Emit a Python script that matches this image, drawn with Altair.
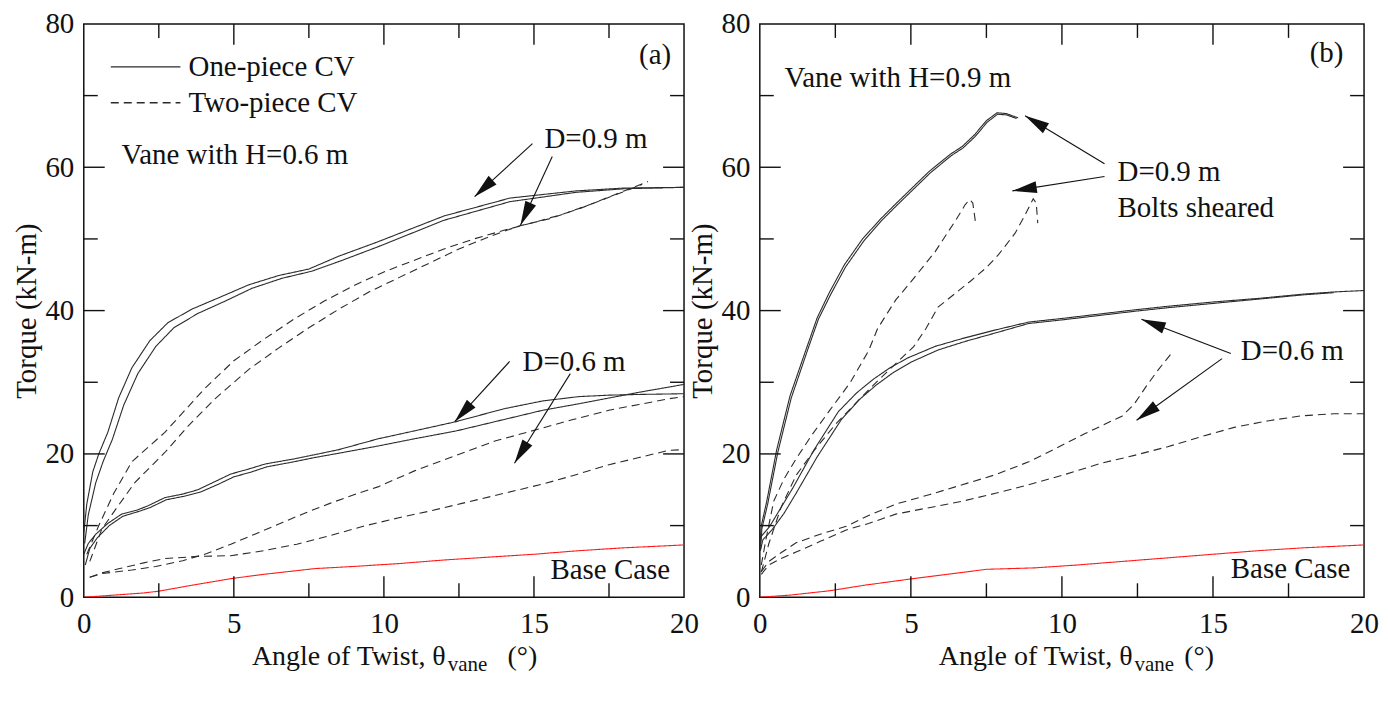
import math
import altair as alt
import pandas as pd

FONT = "Liberation Serif"
INK = "#111111"
LINE = "#2b2b2b"
RED = "#ff1a1a"
FS = 29
H = 575
W_A = 602
W_B = 606

# ---------------- panel (a): vane with H = 0.6 m ----------------
a_one09_1_x = [0, 0.1, 0.3, 0.5, 0.8, 1.16, 1.6, 2.2, 2.8, 3.6, 4.5, 5.5, 6.5, 7.5, 8.5, 9.8, 12.0, 14.2, 16.4, 18.0, 20.0]
a_one09_1_y = [9.0, 13.0, 17.5, 20.0, 23.0, 27.8, 32.0, 35.8, 38.3, 40.2, 41.8, 43.6, 44.9, 45.8, 47.6, 49.6, 53.2, 55.7, 56.7, 57.1, 57.2]
a_one09_2_x = [0.03, 0.15, 0.4, 0.65, 0.95, 1.33, 1.8, 2.4, 3.0, 3.8, 4.7, 5.6, 6.6, 7.6, 8.6, 9.8, 12.0, 14.2, 16.4, 18.0, 20.0]
a_one09_2_y = [7.5, 11.5, 16.0, 19.0, 22.0, 26.8, 31.2, 35.0, 37.6, 39.6, 41.3, 43.1, 44.5, 45.5, 47.0, 48.9, 52.6, 55.2, 56.5, 57.0, 57.2]
a_two09_1_x = [0.1, 0.5, 1.0, 1.6, 2.7, 4.0, 5.0, 6.0, 7.0, 8.0, 9.0, 10.0, 11.0, 12.0, 13.0, 14.0, 15.0, 16.0, 17.0, 18.0, 18.8]
a_two09_1_y = [6.0, 10.0, 14.5, 18.9, 23.0, 29.0, 33.0, 36.0, 38.8, 41.3, 43.5, 45.4, 47.0, 48.6, 50.0, 51.2, 52.3, 53.5, 55.0, 56.7, 58.0]
a_two09_2_x = [0.2, 0.6, 1.05, 1.7, 2.7, 3.5, 4.4, 5.5, 6.5, 7.5, 8.5, 9.5, 10.5, 11.5, 12.5, 13.5, 14.5, 15.5, 16.5, 17.5, 18.6]
a_two09_2_y = [5.0, 9.5, 12.2, 16.0, 20.2, 24.0, 27.8, 31.8, 34.8, 37.6, 40.2, 42.6, 44.6, 46.6, 48.6, 50.3, 51.8, 52.8, 54.2, 55.8, 57.6]
a_one06_1_x = [0, 0.15, 0.4, 0.8, 1.26, 1.8, 2.16, 2.7, 3.3, 3.8, 4.4, 4.9, 5.5, 6.05, 7.0, 7.7, 8.5, 9.8, 11.0, 12.4, 14.0, 15.3, 16.5, 17.5, 18.5, 20.0]
a_one06_1_y = [6.0, 7.5, 8.8, 10.3, 11.6, 12.2, 12.8, 13.9, 14.4, 15.0, 16.2, 17.2, 17.9, 18.6, 19.3, 19.9, 20.6, 22.1, 23.2, 24.5, 26.3, 27.4, 28.0, 28.2, 28.3, 28.4]
a_one06_2_x = [0.05, 0.2, 0.45, 0.85, 1.3, 1.85, 2.2, 2.75, 3.35, 3.9, 4.5, 5.0, 5.6, 6.1, 7.0, 7.7, 8.5, 9.8, 11.0, 12.4, 14.0, 15.3, 16.5, 17.5, 18.5, 20.0]
a_one06_2_y = [4.5, 6.8, 8.3, 10.0, 11.3, 12.0, 12.5, 13.6, 14.1, 14.7, 15.8, 16.8, 17.5, 18.2, 18.9, 19.5, 20.1, 21.1, 22.1, 23.2, 24.8, 26.1, 27.0, 27.8, 28.6, 29.7]
a_two06_1_x = [0.2, 0.6, 1.0, 1.6, 2.4, 3.3, 4.1, 4.9, 5.7, 6.6, 7.4, 8.2, 9.0, 9.8, 11.0, 12.4, 13.7, 15.1, 16.3, 17.5, 18.5, 19.5, 20.0]
a_two06_1_y = [2.8, 3.3, 3.5, 3.8, 4.3, 5.1, 6.1, 7.4, 8.8, 10.4, 11.8, 13.1, 14.3, 15.4, 17.6, 19.8, 21.8, 23.4, 24.8, 26.1, 26.9, 27.7, 28.0]
a_two06_2_x = [0.2, 0.6, 1.2, 2.0, 2.7, 3.8, 4.9, 6.0, 7.1, 8.2, 9.4, 10.5, 11.5, 12.6, 14.0, 15.3, 16.4, 17.5, 18.5, 19.5, 20.0]
a_two06_2_y = [2.8, 3.4, 4.0, 4.8, 5.4, 5.7, 5.8, 6.5, 7.4, 8.6, 10.0, 11.1, 12.0, 13.1, 14.5, 15.8, 17.1, 18.5, 19.5, 20.5, 20.6]
a_base_x = [0, 1.0, 2.0, 2.5, 3.5, 4.9, 6.0, 7.7, 9.0, 10.5, 12.0, 13.5, 15.0, 16.5, 18.0, 20.0]
a_base_y = [0, 0.3, 0.6, 0.85, 1.6, 2.6, 3.2, 4.0, 4.3, 4.7, 5.2, 5.6, 6.0, 6.5, 6.9, 7.3]

# ---------------- panel (b): vane with H = 0.9 m ----------------
b_one09_1_x = [0, 0.05, 0.23, 0.56, 1.0, 1.55, 1.9, 2.3, 2.8, 3.4, 4.0, 4.5, 5.6, 6.3, 6.7, 7.1, 7.5, 7.85, 8.15, 8.55]
b_one09_1_y = [7.0, 10.0, 13.4, 20.6, 28.1, 34.8, 39.0, 42.5, 46.4, 50.0, 52.8, 54.9, 59.4, 61.8, 62.9, 64.5, 66.5, 67.6, 67.5, 66.9]
b_one09_2_x = [0.02, 0.07, 0.26, 0.6, 1.04, 1.59, 1.94, 2.34, 2.84, 3.44, 4.04, 4.54, 5.64, 6.33, 6.73, 7.13, 7.53, 7.87, 8.17, 8.5]
b_one09_2_y = [6.5, 9.6, 13.0, 20.3, 27.8, 34.6, 38.8, 42.2, 46.1, 49.7, 52.6, 54.7, 59.2, 61.6, 62.7, 64.3, 66.3, 67.4, 67.3, 66.8]
b_two09_1_x = [0.05, 0.2, 0.46, 0.8, 1.2, 1.7, 2.3, 3.0, 3.6, 3.9, 4.5, 5.0, 5.8, 6.5, 6.8, 6.95, 7.05, 7.1, 7.15]
b_two09_1_y = [4.5, 8.0, 13.4, 16.5, 19.3, 22.5, 26.0, 30.0, 34.4, 37.5, 41.5, 44.0, 48.2, 52.7, 54.8, 55.5, 55.0, 53.5, 52.0]
b_two09_2_x = [0.05, 0.3, 0.7, 1.2, 1.8, 2.5, 3.2, 3.95, 4.6, 5.1, 5.5, 5.9, 6.5, 7.0, 7.5, 7.9, 8.45, 8.8, 9.05, 9.15, 9.2]
b_two09_2_y = [3.5, 7.5, 12.5, 17.0, 20.5, 24.1, 27.2, 30.4, 33.0, 35.0, 37.5, 40.5, 42.5, 44.2, 46.0, 47.8, 50.8, 53.5, 55.6, 55.0, 52.2]
b_one06_1_x = [0, 0.05, 0.33, 0.7, 1.1, 1.8, 2.6, 3.2, 3.75, 4.3, 4.9, 5.8, 6.7, 7.8, 8.9, 10.0, 11.0, 12.4, 13.5, 15.0, 16.5, 18.0, 19.0, 20.0]
b_one06_1_y = [7.2, 8.5, 9.9, 12.5, 15.3, 20.6, 25.9, 28.5, 30.4, 32.0, 33.4, 35.0, 36.1, 37.3, 38.4, 38.9, 39.4, 40.1, 40.6, 41.2, 41.7, 42.3, 42.6, 42.8]
b_one06_2_x = [0.02, 0.1, 0.4, 0.8, 1.2, 1.9, 2.7, 3.3, 3.85, 4.4, 5.0, 5.9, 6.8, 7.9, 8.9, 10.0, 11.0, 12.4, 13.5, 15.0, 16.5, 18.0, 19.0]
b_one06_2_y = [6.5, 8.0, 9.4, 11.7, 14.5, 19.6, 24.8, 27.6, 29.6, 31.3, 32.8, 34.5, 35.7, 37.0, 38.2, 38.7, 39.2, 39.9, 40.4, 41.0, 41.6, 42.2, 42.5]
b_two06_1_x = [0.05, 0.3, 0.7, 1.2, 2.0, 2.86, 3.6, 4.5, 5.6, 6.7, 7.8, 8.9, 10.0, 10.75, 11.5, 12.0, 12.4, 12.8, 13.2, 13.6]
b_two06_1_y = [3.6, 5.0, 6.2, 7.6, 8.8, 9.9, 11.4, 13.0, 14.3, 15.7, 17.1, 18.9, 21.2, 22.8, 24.3, 25.3, 27.0, 29.5, 31.8, 33.9]
b_two06_2_x = [0.05, 0.3, 0.7, 1.2, 2.0, 2.86, 3.6, 4.5, 5.6, 6.7, 7.8, 8.9, 10.0, 11.3, 12.4, 13.5, 14.6, 15.7, 16.8, 17.9, 19.0, 20.0]
b_two06_2_y = [3.2, 4.5, 5.4, 6.3, 7.8, 9.4, 10.3, 11.6, 12.5, 13.4, 14.5, 15.7, 17.0, 18.7, 19.8, 21.0, 22.4, 23.7, 24.6, 25.3, 25.6, 25.6]
b_base_x = [0, 1.0, 2.3, 3.5, 4.9, 6.2, 7.5, 9.1, 10.5, 12.0, 13.5, 15.0, 16.5, 18.0, 20.0]
b_base_y = [0, 0.3, 0.9, 1.7, 2.5, 3.2, 3.9, 4.1, 4.5, 5.0, 5.5, 6.0, 6.5, 6.9, 7.3]

# ---------------- axes ----------------
x_major = [5, 10, 15]
x_minor = [2.5, 7.5, 12.5, 17.5]
y_major = [20, 40, 60]
y_minor = [10, 30, 50, 70]
x_labels = [0, 5, 10, 15, 20]
y_labels = [0, 20, 40, 60, 80]

# ---------------- annotations ----------------
a_texts = ["One-piece CV", "Two-piece CV", "Vane with H=0.6 m", "(a)", "D=0.9 m", "D=0.6 m", "Base Case"]
a_text_x = [3.49, 3.49, 1.26, 18.5, 15.35, 14.62, 15.55]
a_text_y = [74.0, 69.0, 61.7, 75.7, 63.9, 32.8, 3.75]
a_leg_x = [0.9, 0.9]
a_leg_x2 = [3.22, 3.22]
a_leg_y = [74.0, 69.0]
a_leg_style = ["solid", "dashed"]
a_arrows = [(14.95, 63.3, 13.02, 55.9), (15.61, 61.5, 14.55, 51.9),
            (14.19, 32.9, 12.36, 24.5), (16.21, 31.2, 14.35, 18.7)]
a_title_pos = (12.06, 12.13, 14.12)

b_texts = ["Vane with H=0.9 m", "(b)", "D=0.9 m", "Bolts sheared", "D=0.6 m", "Base Case"]
b_text_x = [0.82, 18.2, 11.84, 11.84, 15.92, 15.59]
b_text_y = [72.5, 75.9, 59.4, 54.3, 34.4, 4.0]
b_arrows = [(11.41, 60.5, 8.78, 67.2), (11.41, 58.7, 8.36, 56.7),
            (15.59, 34.0, 12.63, 38.8), (15.3, 33.3, 12.47, 24.7)]
b_title_pos = (12.34, 12.40, 14.05)

XS = alt.Scale(domain=[0, 20], nice=False, zero=False)
YS = alt.Scale(domain=[0, 80], nice=False, zero=False)

XAXIS = alt.Axis(values=x_labels, title=None, labelPadding=12, ticks=False, tickSize=0,
                 domain=False, grid=False, labelFlush=False, format="d")
YAXIS = alt.Axis(values=y_labels, title="Torque (kN-m)", labelPadding=10, titlePadding=3,
                 ticks=False, tickSize=0, domain=False, grid=False, labelFlush=False, format="d")

DASH = alt.Scale(domain=["solid", "dashed"], range=[[1, 0], [8, 5]])
ARROW_PATH = "M0,0 L0.48,2 L-0.48,2 Z"


def X(f):
    return alt.X(f, type="quantitative", scale=XS, axis=XAXIS)


def Y(f):
    return alt.Y(f, type="quantitative", scale=YS, axis=YAXIS)


def panel(series, texts, tx, ty, leg, arrows, title_pos, W):
    rows = []
    for k, (style, color, xs, ys) in enumerate(series):
        for i, (x, y) in enumerate(zip(xs, ys)):
            rows.append({"s": k, "style": style, "color": color, "i": i, "theta": x, "torque": y})
    df = pd.DataFrame(rows)
    lines = alt.Chart(df).mark_line(strokeWidth=1.1, clip=True).encode(
        x=X("theta"),
        y=Y("torque"),
        detail="s:N",
        order="i:Q",
        color=alt.Color("color:N", scale=None),
        strokeDash=alt.StrokeDash("style:N", scale=DASH, legend=None),
    )
    layers = [lines]

    def rule(vals, horiz, start, end):
        d = pd.DataFrame({"v": vals})
        if horiz:
            enc = dict(y=Y("v"), x=alt.value(start), x2=alt.value(end))
        else:
            enc = dict(x=X("v"), y=alt.value(start), y2=alt.value(end))
        return alt.Chart(d).mark_rule(color=INK, strokeWidth=1.4).encode(**enc)

    for vals, L in ((x_major, 21), (x_minor, 14)):
        layers.append(rule(vals, False, H, H - L))
        layers.append(rule(vals, False, 0, L))
    for vals, L in ((y_major, 21), (y_minor, 14)):
        layers.append(rule(vals, True, 0, L))
        layers.append(rule(vals, True, W, W - L))

    if leg is not None:
        ldf = pd.DataFrame({"x": leg[0], "x2": leg[1], "y": leg[2], "style": leg[3]})
        layers.append(alt.Chart(ldf).mark_rule(color=LINE, strokeWidth=1.3).encode(
            x=X("x"), x2="x2:Q", y=Y("y"),
            strokeDash=alt.StrokeDash("style:N", scale=alt.Scale(domain=["solid", "dashed"], range=[[1, 0], [7, 5]]), legend=None),
        ))

    tdf = pd.DataFrame({"x": tx, "y": ty, "t": texts})
    layers.append(alt.Chart(tdf).mark_text(align="left", baseline="middle", font=FONT,
                                           fontSize=FS, color=INK).encode(
        x=X("x"), y=Y("y"), text="t:N"))

    # arrows
    sx, sy = W / 20.0, H / 80.0
    adf = pd.DataFrame([{"x": a[0], "y": a[1], "x2": a[2], "y2": a[3],
                         "ang": math.degrees(math.atan2((a[2] - a[0]) * sx, (a[3] - a[1]) * sy)) % 360}
                        for a in arrows])
    layers.append(alt.Chart(adf).mark_rule(color=INK, strokeWidth=1.1).encode(
        x=X("x"), y=Y("y"), x2="x2:Q", y2="y2:Q"))
    layers.append(alt.Chart(adf).mark_point(shape=ARROW_PATH, filled=True, color=INK,
                                            opacity=1, size=600, strokeWidth=0).encode(
        x=X("x2"), y=Y("y2"), angle=alt.Angle("ang:Q", scale=None)))

    # x-axis title with subscript
    t1 = pd.DataFrame({"x": [title_pos[0]], "t": ["Angle of Twist, \u03b8"]})
    t2 = pd.DataFrame({"x": [title_pos[1]], "t": ["vane"]})
    t3 = pd.DataFrame({"x": [title_pos[2]], "t": ["(\u00b0)"]})
    layers.append(alt.Chart(t1).mark_text(align="right", baseline="alphabetic", font=FONT,
                                          fontSize=28, color=INK).encode(
        x=X("x"), y=alt.value(H + 68), text="t:N"))
    layers.append(alt.Chart(t2).mark_text(align="left", baseline="alphabetic", font=FONT,
                                          fontSize=21, color=INK).encode(
        x=X("x"), y=alt.value(H + 74), text="t:N"))
    layers.append(alt.Chart(t3).mark_text(align="left", baseline="alphabetic", font=FONT,
                                          fontSize=28, color=INK).encode(
        x=X("x"), y=alt.value(H + 68), text="t:N"))

    return alt.layer(*layers).properties(width=W, height=H)


a_series = [
    ("solid", LINE, a_one09_1_x, a_one09_1_y),
    ("solid", LINE, a_one09_2_x, a_one09_2_y),
    ("dashed", LINE, a_two09_1_x, a_two09_1_y),
    ("dashed", LINE, a_two09_2_x, a_two09_2_y),
    ("solid", LINE, a_one06_1_x, a_one06_1_y),
    ("solid", LINE, a_one06_2_x, a_one06_2_y),
    ("dashed", LINE, a_two06_1_x, a_two06_1_y),
    ("dashed", LINE, a_two06_2_x, a_two06_2_y),
    ("solid", RED, a_base_x, a_base_y),
]
b_series = [
    ("solid", LINE, b_one09_1_x, b_one09_1_y),
    ("solid", LINE, b_one09_2_x, b_one09_2_y),
    ("dashed", LINE, b_two09_1_x, b_two09_1_y),
    ("dashed", LINE, b_two09_2_x, b_two09_2_y),
    ("solid", LINE, b_one06_1_x, b_one06_1_y),
    ("solid", LINE, b_one06_2_x, b_one06_2_y),
    ("dashed", LINE, b_two06_1_x, b_two06_1_y),
    ("dashed", LINE, b_two06_2_x, b_two06_2_y),
    ("solid", RED, b_base_x, b_base_y),
]

pa = panel(a_series, a_texts, a_text_x, a_text_y,
           (a_leg_x, a_leg_x2, a_leg_y, a_leg_style), a_arrows, a_title_pos, W_A)
pb = panel(b_series, b_texts, b_text_x, b_text_y, None, b_arrows, b_title_pos, W_B)

chart = alt.hconcat(pa, pb, spacing=76, bounds="flush").properties(
    padding={"top": 0, "bottom": 0, "left": 4, "right": 0}
).configure_view(stroke=INK, strokeWidth=1.5).configure_axis(
    labelFont=FONT, labelFontSize=FS, labelColor=INK,
    titleFont=FONT, titleFontSize=FS, titleFontWeight="normal", titleColor=INK,
)

chart.save("out.html", embed_options={"renderer": "svg", "actions": False})
